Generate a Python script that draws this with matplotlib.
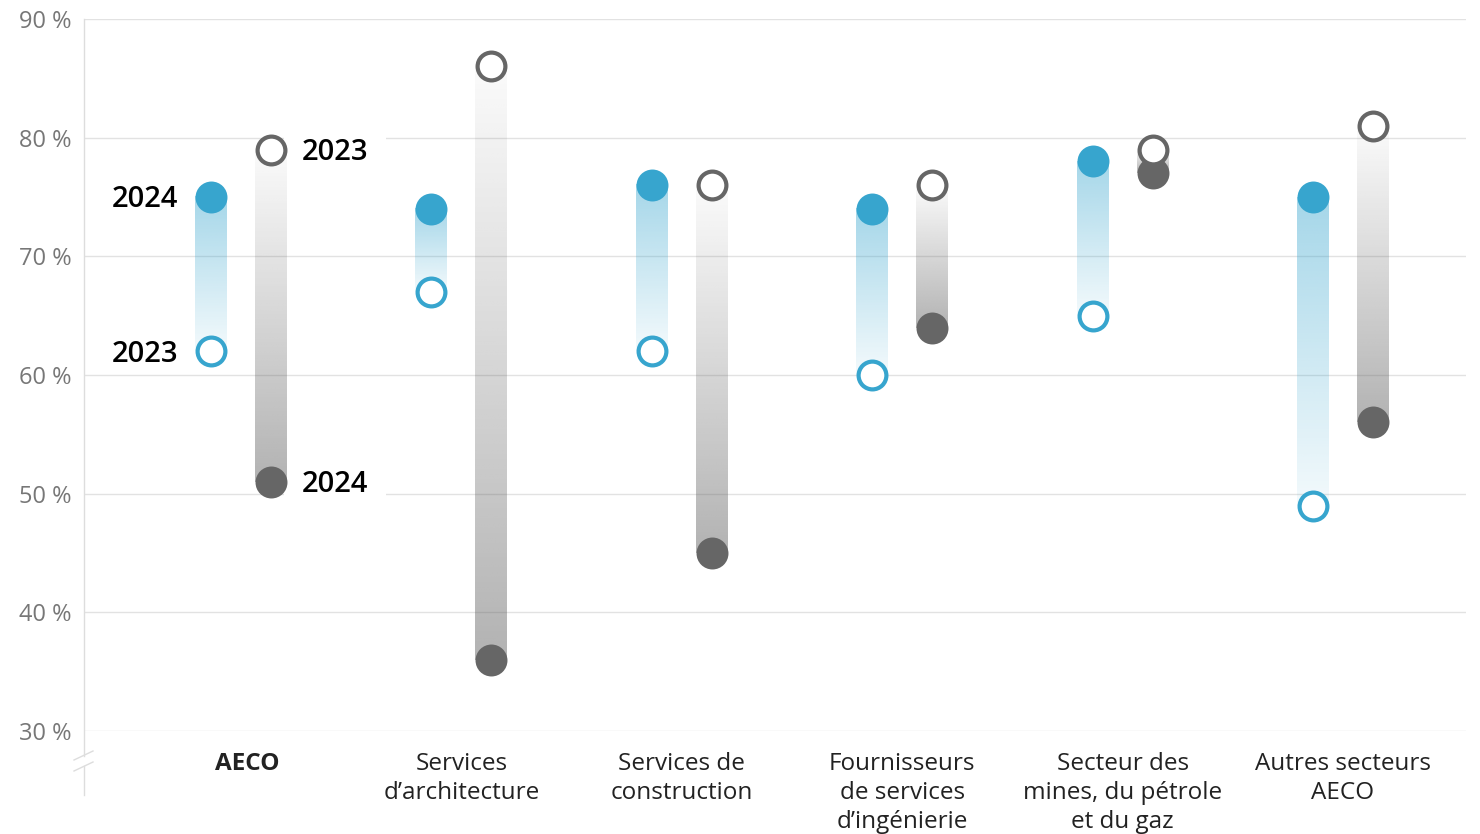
import numpy as np
import matplotlib
matplotlib.use('Agg')
import matplotlib.pyplot as plt
from matplotlib.colors import to_rgb
from matplotlib.lines import Line2D

plt.rcParams['font.family'] = ['Open Sans', 'DejaVu Sans']

# Data
categories = ['AECO', 'Services\nd\u2019architecture', 'Services de\nconstruction',
              'Fournisseurs\nde services\nd\u2019ing\u00e9nierie',
              'Secteur des\nmines, du p\u00e9trole\net du gaz', 'Autres secteurs\nAECO']
blue_2023 = [62, 67, 62, 60, 65, 49]
blue_2024 = [75, 74, 76, 74, 78, 75]
gray_2023 = [79, 86, 76, 76, 79, 81]
gray_2024 = [51, 36, 45, 64, 77, 56]
yticks = [30, 40, 50, 60, 70, 80, 90]

blue = '#37a5ce'
gray = '#666666'

fig = plt.figure(figsize=(14.8, 8.34), dpi=100)
ax = fig.add_axes([84/1480, 1-731/834, 1382/1480, 712/834])

off = 0.136   # half distance between the two bars of a group
bw = 0.145    # bar width


def grad_bar(x, v23, v24, color, a_hi, a_lo):
    # gradient: strong at 2024 end, faint at 2023 end
    n = 200
    lo, hi = min(v23, v24), max(v23, v24)
    t = np.linspace(0, 1, n)  # 0 at lo, 1 at hi
    if v24 >= v23:
        alpha = a_lo + (a_hi - a_lo) * t
    else:
        alpha = a_hi + (a_lo - a_hi) * t
    img = np.zeros((n, 1, 4))
    img[:, 0, :3] = to_rgb(color)
    img[:, 0, 3] = alpha
    ax.imshow(img, extent=(x - bw/2, x + bw/2, lo, hi), origin='lower',
              aspect='auto', interpolation='bilinear', zorder=2)


for i in range(len(categories)):
    xb, xg = i - off, i + off
    grad_bar(xb, blue_2023[i], blue_2024[i], blue, 0.45, 0.06)
    grad_bar(xg, gray_2023[i], gray_2024[i], gray, 0.5, 0.03)
    ax.plot(xb, blue_2024[i], 'o', ms=23, mfc=blue, mec='none', zorder=4)
    ax.plot(xb, blue_2023[i], 'o', ms=20, mfc='white', mec=blue, mew=3, zorder=4)
    ax.plot(xg, gray_2024[i], 'o', ms=23, mfc=gray, mec='none', zorder=4)
    ax.plot(xg, gray_2023[i], 'o', ms=20, mfc='white', mec=gray, mew=3, zorder=4)

ax.set_aspect('auto')
ax.set_xlim(-0.712, 5.558)
ax.set_ylim(30, 90)

# year labels for the first group
dy = -0.25
lab = dict(fontsize=21, fontweight='semibold', color='black', va='center')
ax.text(-off - 0.15, blue_2024[0] + dy, '2024', ha='right', zorder=5, **lab)
ax.text(-off - 0.15, blue_2023[0] + dy, '2023', ha='right', zorder=5, **lab)
box = dict(boxstyle='square,pad=0.6', fc='white', ec='none')
ax.text(off + 0.14, gray_2023[0] + dy, '2023', ha='left', bbox=box, zorder=1, **lab)
ax.text(off + 0.14, gray_2024[0] + dy, '2024', ha='left', bbox=box, zorder=1, **lab)

# axes styling
ax.set_yticks(yticks)
ax.set_yticklabels([f'{v} %' for v in yticks])
ax.tick_params(axis='y', length=0, pad=9, labelsize=17, labelcolor='#777777')
ax.set_xticks(range(len(categories)))
ax.set_xticklabels([])
ax.tick_params(axis='x', length=0)
ax.grid(axis='y', color='#e2e2e2', lw=1, zorder=0)
ax.set_axisbelow(True)
for s in ax.spines.values():
    s.set_visible(False)

for i, c in enumerate(categories):
    ax.text(i + (0.027 if i == 0 else 0), 28.2, c, ha='center', va='top', fontsize=17.5,
            color='#222222', fontweight='bold' if i == 0 else 'normal', linespacing=1.27,
            clip_on=False)

# left axis line with break marks
sc = '#dddddd'
def fx(px):
    return px / 1480
def fy(py):
    return 1 - py / 834
fig.add_artist(Line2D([fx(84), fx(84)], [fy(19), fy(756)], color=sc, lw=1))
fig.add_artist(Line2D([fx(84), fx(84)], [fy(766), fy(795)], color=sc, lw=1))
fig.add_artist(Line2D([fx(74), fx(93)], [fy(760), fy(751)], color=sc, lw=1))
fig.add_artist(Line2D([fx(74), fx(93)], [fy(771), fy(762)], color=sc, lw=1))

fig.savefig('out.png', dpi=100, facecolor='white')
